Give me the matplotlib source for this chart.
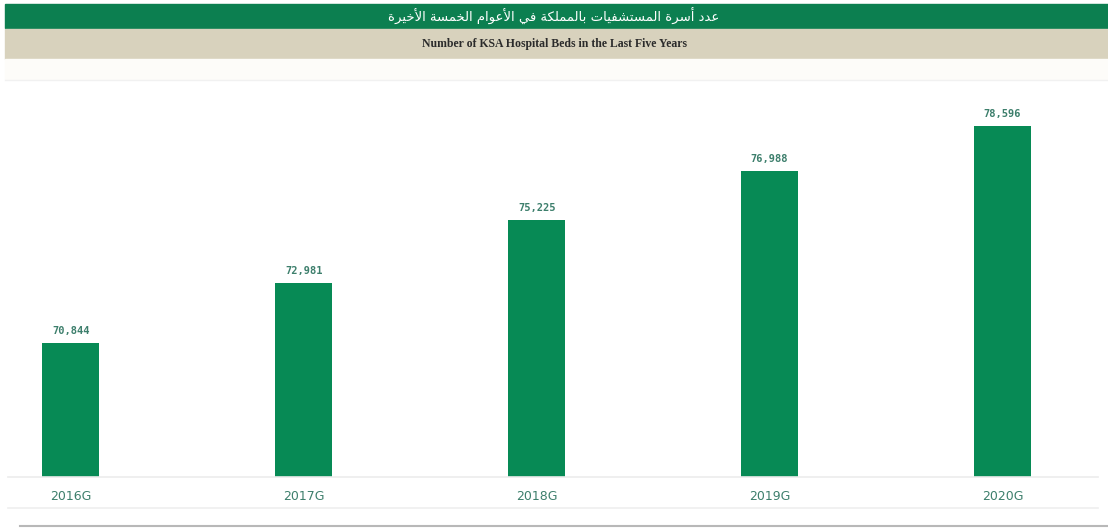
import matplotlib
matplotlib.use("Agg")
import matplotlib.pyplot as plt
from matplotlib.patches import Rectangle
from matplotlib.lines import Line2D

years = ["2016G", "2017G", "2018G", "2019G", "2020G"]
beds = [70844, 72981, 75225, 76988, 78596]
title_ar = "عدد أسرة المستشفيات بالمملكة في الأعوام الخمسة الأخيرة"
title_en = "Number of KSA Hospital Beds in the Last Five Years"

GREEN = "#078a55"
BANNER = "#0c7f50"
TAN = "#d8d2bd"
LABEL = "#3d7f6c"

# presentation forms: (isolated, final, initial, medial); None = doesn't join forward
FORMS = {
    "ا": ("\uFE8D", "\uFE8E", None, None),
    "أ": ("\uFE83", "\uFE84", None, None),
    "ب": ("\uFE8F", "\uFE90", "\uFE91", "\uFE92"),
    "ة": ("\uFE93", "\uFE94", None, None),
    "ت": ("\uFE95", "\uFE96", "\uFE97", "\uFE98"),
    "خ": ("\uFEA5", "\uFEA6", "\uFEA7", "\uFEA8"),
    "د": ("\uFEA9", "\uFEAA", None, None),
    "ر": ("\uFEAD", "\uFEAE", None, None),
    "س": ("\uFEB1", "\uFEB2", "\uFEB3", "\uFEB4"),
    "ش": ("\uFEB5", "\uFEB6", "\uFEB7", "\uFEB8"),
    "ع": ("\uFEC9", "\uFECA", "\uFECB", "\uFECC"),
    "ف": ("\uFED1", "\uFED2", "\uFED3", "\uFED4"),
    "ك": ("\uFED9", "\uFEDA", "\uFEDB", "\uFEDC"),
    "ل": ("\uFEDD", "\uFEDE", "\uFEDF", "\uFEE0"),
    "م": ("\uFEE1", "\uFEE2", "\uFEE3", "\uFEE4"),
    "و": ("\uFEED", "\uFEEE", None, None),
    "ي": ("\uFEF1", "\uFEF2", "\uFEF3", "\uFEF4"),
}
LAM_ALEF = {"ا": ("\uFEFB", "\uFEFC"), "أ": ("\uFEF7", "\uFEF8")}


def joins_forward(ch):
    return ch in FORMS and FORMS[ch][2] is not None


def shape_arabic(text):
    out = []
    i = 0
    while i < len(text):
        ch = text[i]
        if ch not in FORMS:
            out.append(ch)
            i += 1
            continue
        prev = text[i - 1] if i > 0 else ""
        from_prev = joins_forward(prev)
        if ch == "ل" and i + 1 < len(text) and text[i + 1] in LAM_ALEF:
            out.append(LAM_ALEF[text[i + 1]][1 if from_prev else 0])
            i += 2
            continue
        nxt = text[i + 1] if i + 1 < len(text) else ""
        to_next = joins_forward(ch) and nxt in FORMS
        iso, fin, ini, med = FORMS[ch]
        if from_prev and to_next:
            out.append(med)
        elif from_prev:
            out.append(fin)
        elif to_next:
            out.append(ini)
        else:
            out.append(iso)
        i += 1
    return "".join(out)[::-1]


fig = plt.figure(figsize=(11.08, 5.29), dpi=100)
W, H = 1108, 529

# header banners
fig.patches.append(Rectangle((5 / W, 1 - 28 / H), 1, 24 / H, transform=fig.transFigure,
                             color=BANNER, zorder=0))
fig.patches.append(Rectangle((5 / W, 1 - 59 / H), 1, 30 / H, transform=fig.transFigure,
                             color=TAN, zorder=0))
fig.patches.append(Rectangle((5 / W, 1 - 79 / H), 1, 20 / H, transform=fig.transFigure,
                             color="#fdfcf9", zorder=0))
fig.lines.append(Line2D([5 / W, 1], [1 - 80 / H] * 2, transform=fig.transFigure,
                        color="#f1f1f1", linewidth=1))
fig.text(0.5, 1 - 16 / H, shape_arabic(title_ar), color="white", fontsize=9.5,
         ha="center", va="center", family="DejaVu Sans")
fig.text(0.5, 1 - 44 / H, title_en, color="#2b2b2b", fontsize=8.5, fontweight="bold",
         ha="center", va="center", family="Liberation Serif")

ax = fig.add_axes([8 / W, 1 - 477 / H, 1090 / W, 397 / H])
x = range(len(years))
bars = ax.bar(x, beds, width=0.245, color=GREEN, zorder=2)
ax.set_xlim(-0.27, 4.41)
ax.set_ylim(66058, 80237)

for b, v in zip(bars, beds):
    ax.text(b.get_x() + b.get_width() / 2, v + 260, f"{v:,}", ha="center", va="bottom",
            fontsize=7.5, fontweight="bold", color=LABEL, family="DejaVu Sans Mono")

ax.set_xticks(list(x))
ax.set_xticklabels(years, color=LABEL, fontsize=9)
ax.tick_params(axis="x", length=0, pad=9)
ax.set_yticks([])
for s in ["top", "left", "right"]:
    ax.spines[s].set_visible(False)
ax.spines["bottom"].set_color("#ececec")
ax.spines["bottom"].set_linewidth(1.2)

fig.lines.append(Line2D([8 / W, 1098 / W], [1 - 508 / H] * 2, transform=fig.transFigure,
                        color="#efefef", linewidth=1.2))
fig.lines.append(Line2D([20 / W, 1], [1 - 526 / H] * 2, transform=fig.transFigure,
                        color="#b8b8b8", linewidth=1.5))

fig.savefig("out.png", dpi=100, facecolor="white")
